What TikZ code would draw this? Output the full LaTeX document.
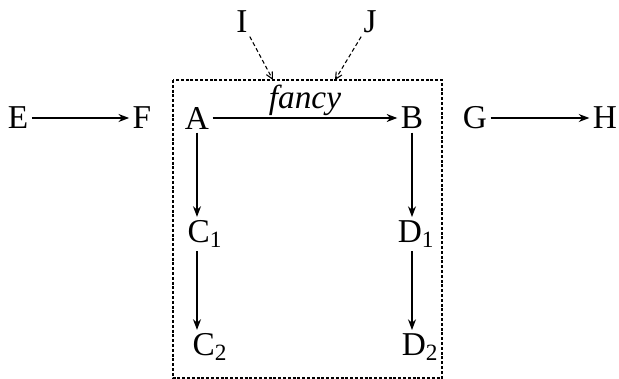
\documentclass[tikz,border=0pt]{standalone}
\usepackage{fontspec}
\setmainfont{Liberation Serif}
\usetikzlibrary{arrows.meta,positioning}

\begin{document}
\begin{tikzpicture}[
  x=0.75pt, y=-0.75pt,
  lbl/.style={font=\fontsize{25}{30}\selectfont, inner sep=2.5pt},
  flow/.style={-{Stealth[length=8pt,width=6pt]}, line width=0.9pt},
  feed/.style={-{Straight Barb[length=5pt,width=5pt]}, line width=0.8pt, dash pattern=on 3pt off 2pt},
  grp/.style={line width=0.9pt, dash pattern=on 2.2pt off 1.4pt}
]
\useasboundingbox (0,0) rectangle (619,379);

% Group box
\draw[grp] (173,80) rectangle (442,378);
\coordinate (inI) at (273,80);
\coordinate (inJ) at (335,80);

% Inputs
\node[lbl] (I) at (242,22) {I};
\node[lbl] (J) at (370,22) {J};

% Row 1
\node[lbl] (E) at (18,118) {E};
\node[lbl] (F) at (142,118) {F};
\node[lbl] (A) at (197,118) {A};
\node[lbl] (B) at (412,118) {B};
\node[lbl] (G) at (475,118) {G};
\node[lbl] (H) at (605,118) {H};

% Row 2
\node[lbl] (C1) at (205,234) {C\textsubscript{1}};
\node[lbl] (D1) at (416,234) {D\textsubscript{1}};

% Row 3
\node[lbl] (C2) at (210,347) {C\textsubscript{2}};
\node[lbl] (D2) at (420,347) {D\textsubscript{2}};

\draw[feed] (I) -- (inI);
\draw[feed] (J) -- (inJ);
\draw[flow] (E) -- (F);
\draw[flow] (G) -- (H);
\draw[flow] (A) -- node[lbl, above, inner sep=1pt] {\textit{fancy}} (B);
\draw[flow] (A) -- (A |- C1.north);
\draw[flow] (B) -- (B |- D1.north);
\draw[flow] (A |- C1.south) -- (A |- C2.north);
\draw[flow] (B |- D1.south) -- (B |- D2.north);
\end{tikzpicture}
\end{document}
